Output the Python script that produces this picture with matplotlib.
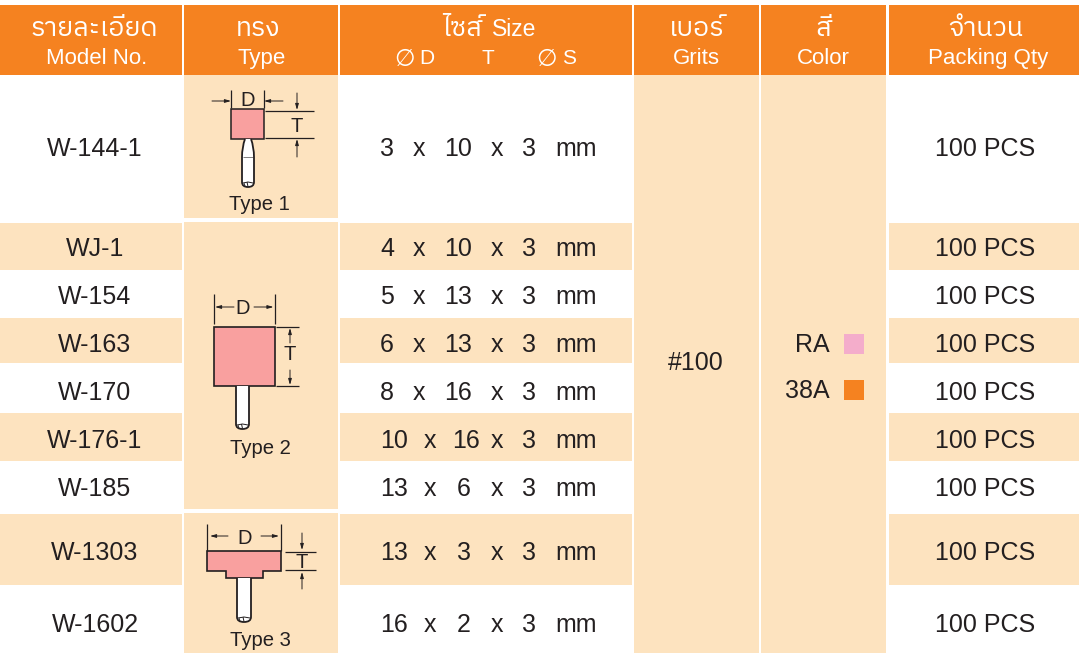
import matplotlib
matplotlib.use("Agg")
import matplotlib.pyplot as plt
from matplotlib import font_manager as fm
from matplotlib.patches import Rectangle, Polygon, PathPatch
from matplotlib.path import Path
from matplotlib.ft2font import FT2Font

# ---------- data ----------
models = ["W-144-1", "WJ-1", "W-154", "W-163", "W-170", "W-176-1", "W-185", "W-1303", "W-1602"]
dia_d = [3, 4, 5, 6, 8, 10, 13, 13, 16]
thick_t = [10, 10, 13, 13, 16, 16, 6, 3, 2]
dia_s = [3, 3, 3, 3, 3, 3, 3, 3, 3]
quantity = ["100 PCS"] * 9
grit = "#100"
colour_names = ["RA", "38A"]
header_th = ["รายละเอียด", "ทรง", "ไซส์", "เบอร์", "สี", "จำนวน"]
header_en = ["Model No.", "Type", "", "Grits", "Color", "Packing Qty"]
type_labels = ["Type 1", "Type 2", "Type 3"]

# ---------- layout (pixels) ----------
W, H = 1079, 653
cols = [(0, 182), (184, 338), (340, 632), (634, 759), (761, 886), (889, 1079)]
row_tops = [75, 223, 270, 318, 363, 413, 461, 514, 585]
row_bots = [219, 270, 318, 363, 413, 461, 510, 585, 653]
tinted = [False, True, False, True, False, True, False, True, False]
row_text_y = [147, 247, 295, 343, 391, 438, 486, 551, 622]
ORANGE = "#F58220"
TINT = "#FDE3BF"
PINK = "#F9A09F"
INK = "#231F20"
colour_swatches = ["#F4ADCB", "#F58220"]

thai = None
for f in fm.fontManager.ttflist:
    try:
        if 0x0E2A in FT2Font(f.fname).get_charmap():
            thai = f.name
            if "Noto" in f.name or "Sans" in f.name:
                break
    except Exception:
        pass
SANS = "Liberation Sans"
THAI = [thai, SANS] if thai else [SANS]

fig = plt.figure(figsize=(W / 100, H / 100), dpi=100, facecolor="white")
ax = fig.add_axes([0, 0, 1, 1])
ax.set_xlim(0, W)
ax.set_ylim(H, 0)
ax.axis("off")


def box(x0, y0, x1, y1, c, z=1):
    ax.add_patch(Rectangle((x0, y0), x1 - x0, y1 - y0, fc=c, ec="none", zorder=z))


def txt(x, y, s, size=18, color=INK, family=SANS, **kw):
    ax.text(x, y, s, fontsize=size, color=color, family=family,
            ha=kw.pop("ha", "center"), va="center_baseline", zorder=5, **kw)


# header
for (a, b), th, en in zip(cols, header_th, header_en):
    box(a, 5, b, 75, ORANGE)
    cx = (a + b) / 2
    if th == header_th[2]:
        txt(462, 26, th, 19.3, "white", THAI)
        txt(514, 27, "Size", 16.5, "white")
    else:
        txt(cx + (3 if a == 0 else 0) - (3 if a == 184 else 0) + (2 if a == 889 else 0), 26, th, 19.3, "white", THAI)
        txt(cx + (6 if a == 0 else 0) + (1 if a == 184 else 0) + (4 if a == 889 else 0), 56, en, 16, "white")
for x, s in [(427, "D"), (488, "T"), (569, "S")]:
    txt(x, 57, s, 15, "white")
for x in (405, 547):
    txt(x, 57, "∅", 17, "white", "DejaVu Sans")

# body bands
for y0, y1, t in zip(row_tops, row_bots, tinted):
    if t:
        box(cols[0][0], y0, cols[0][1], y1, TINT)
        box(cols[2][0], y0, cols[2][1], y1, TINT)
        box(cols[5][0], y0, cols[5][1], y1, TINT)
for a, b in (cols[3], cols[4]):
    box(a, 75, b, H, TINT)
for y0, y1 in [(75, 218), (222, 509), (513, H)]:
    box(cols[1][0], y0, cols[1][1], y1, TINT)

# rows
for i, m in enumerate(models):
    y = row_text_y[i]
    txt(95, y, m)
    txt(985, y, quantity[i])
    wide = dia_d[i] >= 10
    txt(394 if wide else 387, y, str(dia_d[i]))
    txt(430 if wide else 419, y, "x")
    tx = 458 if thick_t[i] >= 10 and not wide else (466 if thick_t[i] >= 10 else 464)
    txt(tx, y, str(thick_t[i]))
    txt(497, y, "x")
    txt(529, y, str(dia_s[i]))
    txt(576, y, "mm")

txt(696, 360, grit)
for name, c, y in zip(colour_names, colour_swatches, (344, 390)):
    txt(830, y - 1, name, ha="right")
    box(844, y - 10, 864, y + 10, c)


# ---------- little drawings ----------
def line(xs, ys, lw=0.9):
    ax.plot(xs, ys, color=INK, lw=lw, solid_capstyle="butt", zorder=4)


def arrow(x0, y0, x1, y1):
    ax.annotate("", xy=(x1, y1), xytext=(x0, y0), zorder=4,
                arrowprops=dict(arrowstyle="-|>,head_length=0.35,head_width=0.1",
                                color=INK, lw=0.7, shrinkA=0, shrinkB=0))


def shank(x0, x1, y0, y1, round_top=False):
    r = (x1 - x0) / 2
    if round_top:
        verts = [(x0 + 3, y0), (x0, y0 + 8), (x0, y0 + 18)]
        codes = [Path.MOVETO, Path.CURVE3, Path.CURVE3]
    else:
        verts = [(x0, y0)]
        codes = [Path.MOVETO]
    verts += [(x0, y1 - 5), (x0, y1), (x0 + r, y1), (x1, y1), (x1, y1 - 5)]
    codes += [Path.LINETO, Path.CURVE3, Path.CURVE3, Path.CURVE3, Path.CURVE3]
    if round_top:
        verts += [(x1, y0 + 18), (x1, y0 + 8), (x1 - 3, y0)]
        codes += [Path.LINETO, Path.CURVE3, Path.CURVE3]
    else:
        verts += [(x1, y0)]
        codes += [Path.LINETO]
    ax.add_patch(PathPatch(Path(verts, codes), fc="white", ec=INK, lw=1.3, zorder=3))
    line([x0 + 1, x0 + r, x1 - 1], [y1 - 4, y1 - 5, y1 - 4], 0.7)
    line([x0 + r - 1, x0 + r], [y1 - 5, y1 - 0.5], 0.7)
    line([x0 + 2, x0 + 3], [y1 - 4, y1 - 1], 0.6)


# type 1
ax.add_patch(Rectangle((231, 109), 33, 30, fc=PINK, ec=INK, lw=1.1, zorder=3))
shank(242, 254, 139, 187, True)
line([243, 253], [157, 157], 0.4)
line([231, 231], [90, 108]); line([264, 264], [90, 108])
arrow(212, 101, 231, 101); arrow(283, 101, 264, 101)
txt(248, 99, "D", 14.5)
line([265, 314], [111, 111]); line([265, 314], [138, 138])
arrow(297, 93, 297, 110); arrow(297, 157, 297, 139)
txt(297, 124, "T", 14.5)
txt(259, 202, type_labels[0], 14.6)

# type 2
ax.add_patch(Rectangle((214, 327), 60.5, 59, fc=PINK, ec=INK, lw=1.2, zorder=3))
shank(236, 249, 386, 429)
line([214, 214], [294, 324]); line([274.5, 274.5], [294, 324])
arrow(234, 307, 215, 307); arrow(254, 307, 273.5, 307)
txt(243, 307, "D", 14.5)
line([276, 299], [327, 327]); line([276, 299], [386, 386])
arrow(290, 343, 290, 328); arrow(290, 370, 290, 385)
txt(290, 353, "T", 14.5)
txt(260, 446, type_labels[1], 14.6)

# type 3
ax.add_patch(Polygon([(207, 551), (281, 551), (281, 571), (263, 571), (263, 578),
                      (226, 578), (226, 571), (207, 571)],
                     closed=True, fc=PINK, ec=INK, lw=1.2, zorder=3))
shank(237, 251, 578, 622)
line([207, 207], [524, 551]); line([281, 281], [524, 551])
arrow(228, 536, 210, 536); arrow(261, 536, 279, 536)
txt(245, 536, "D", 14.5)
line([285, 316], [552, 552]); line([285, 316], [570, 570])
arrow(302, 533, 302, 550); arrow(302, 589, 302, 572)
txt(302, 561, "T", 14.5)
txt(260, 639, type_labels[2], 14.6)

fig.savefig("out.png", dpi=100, facecolor="white")
